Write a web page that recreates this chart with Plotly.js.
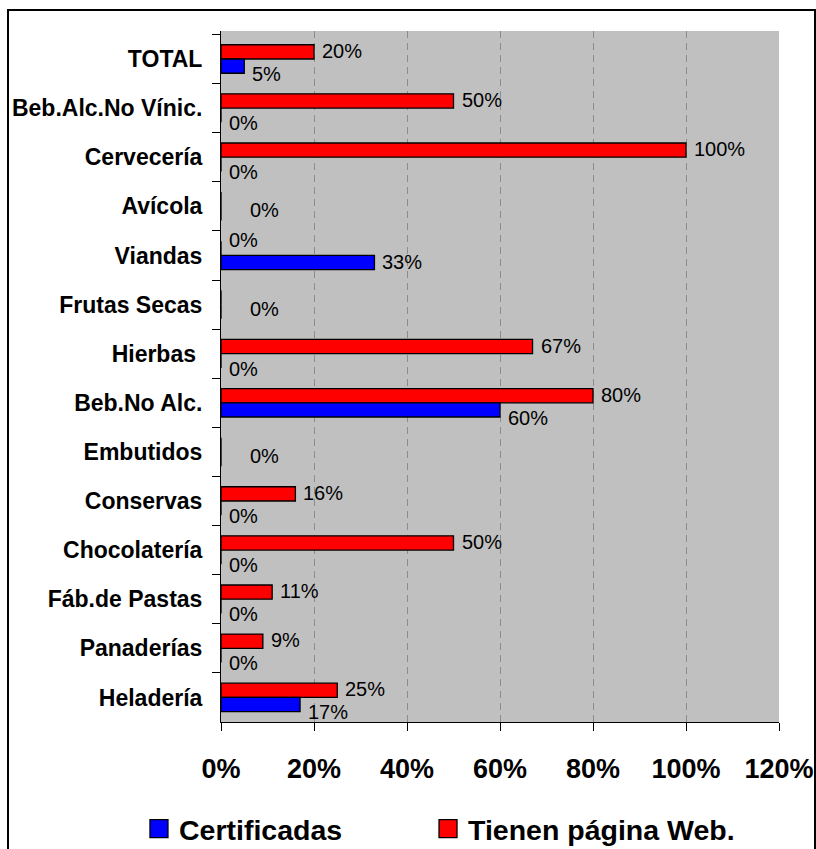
<!DOCTYPE html>
<html>
<head>
<meta charset="utf-8">
<script src="https://cdn.plot.ly/plotly-3.0.1.min.js"></script>
<style>
  html, body { margin: 0; padding: 0; background: #ffffff; }
  #wrap { position: relative; width: 816px; height: 849px; overflow: hidden; }
  #chart { position: absolute; left: 0; top: 0; width: 816px; height: 849px; }
  #frame { position: absolute; left: 7px; top: 9px; width: 805px; height: 860px;
           border: 2px solid #000; pointer-events: none; }
</style>
</head>
<body>
<div id="wrap">
  <div id="chart"></div>
  <div id="frame"></div>
</div>
<script>
// Sectors, listed from top to bottom
const categories = [
  "TOTAL", "Beb.Alc.No Vínic.", "Cervecería", "Avícola", "Viandas",
  "Frutas Secas", "Hierbas\u00a0", "Beb.No Alc.", "Embutidos", "Conservas",
  "Chocolatería", "Fáb.de Pastas", "Panaderías", "Heladería"
];

// Share of firms with a web page
const webValues = [0.20, 0.50, 1.00, 0, 0, 0, 0.67, 0.80, 0, 0.16, 0.50, 0.11, 0.09, 0.25];
// Share of certified firms
const certValues = [0.05, 0, 0, 0, 0.33, 0, 0, 0.60, 0, 0, 0, 0, 0, 0.17];

const seriesNames = ["Tienen página Web.", "Certificadas"];
const xTicks = [0, 0.2, 0.4, 0.6, 0.8, 1.0, 1.2];

const FONT = "Liberation Sans, Arial, Helvetica, sans-serif";
const pct = v => Math.round(v * 100) + "%";

const barLine = { color: "#000000", width: 1.3 };

const traces = [
  {
    type: "bar", orientation: "h", name: seriesNames[0], legend: "legend2",
    y: categories, x: webValues,
    marker: { color: "#FF0000", line: barLine },
    hoverinfo: "none"
  },
  {
    type: "bar", orientation: "h", name: seriesNames[1], legend: "legend",
    y: categories, x: certValues,
    marker: { color: "#0000FF", line: barLine },
    hoverinfo: "none"
  }
];

// Value labels placed just past the end of each bar
const annotations = [];
const labelFont = { family: FONT, size: 20, color: "#000000" };
categories.forEach((cat, i) => {
  const w = webValues[i], c = certValues[i];
  const base = { xref: "x", yref: "y", showarrow: false,
                 xanchor: "left", yanchor: "middle", font: labelFont };
  if (w === 0 && c === 0) {
    // both series empty: a single shared label
    annotations.push(Object.assign({ x: w, y: cat, text: pct(w), xshift: 27, yshift: -4 }, base));
    return;
  }
  let wShift = 8, cShift = -15;
  if (w === 0) { wShift = 15; cShift = -7; }
  annotations.push(Object.assign({ x: w, y: cat, text: pct(w), xshift: 6, yshift: wShift }, base));
  annotations.push(Object.assign({ x: c, y: cat, text: pct(c), xshift: 6, yshift: cShift }, base));
});

const legendFont = { family: FONT, size: 28.5, weight: "bold", color: "#000000" };

const layout = {
  width: 816, height: 849,
  margin: { l: 221, r: 37, t: 31, b: 127, autoexpand: false },
  paper_bgcolor: "#ffffff",
  plot_bgcolor: "#C0C0C0",
  font: { family: FONT, color: "#000000" },
  barmode: "group",
  bargap: 0.42,
  bargroupgap: 0,
  showlegend: true,
  legend: {
    orientation: "h",
    x: -0.147, xanchor: "left",
    y: -0.155, yanchor: "middle",
    font: legendFont,
    bgcolor: "rgba(0,0,0,0)"
  },
  legend2: {
    orientation: "h",
    x: 0.371, xanchor: "left",
    y: -0.155, yanchor: "middle",
    font: legendFont,
    bgcolor: "rgba(0,0,0,0)"
  },
  xaxis: {
    range: [0, 1.2],
    tickmode: "array", tickvals: xTicks,
    tickformat: ".0%",
    showgrid: true, gridcolor: "#8c8c8c", gridwidth: 1, griddash: "7px,5px",
    zeroline: false,
    showline: true, linecolor: "#000000", linewidth: 1,
    ticks: "outside", ticklen: 8, tickcolor: "#000000", tickwidth: 1,
    ticklabelstandoff: 15,
    tickfont: { family: FONT, size: 27, weight: "bold", color: "#000000" },
    fixedrange: true
  },
  yaxis: {
    type: "category",
    autorange: "reversed",
    tickson: "boundaries",
    ticks: "outside", ticklen: 8, tickcolor: "#000000", tickwidth: 1,
    showgrid: false, zeroline: false,
    showline: true, linecolor: "#000000", linewidth: 1,
    ticklabelstandoff: 13,
    tickfont: { family: FONT, size: 23, weight: "bold", color: "#000000" },
    fixedrange: true
  },
  annotations: annotations
};

Plotly.newPlot("chart", traces, layout, { displayModeBar: false, staticPlot: true })
  .then(gd => {
    // larger legend swatches
    gd.querySelectorAll(".legendpoints path").forEach(p => {
      p.setAttribute("d", "M9,9H-9V-9H9Z");
    });
  });
</script>
</body>
</html>
